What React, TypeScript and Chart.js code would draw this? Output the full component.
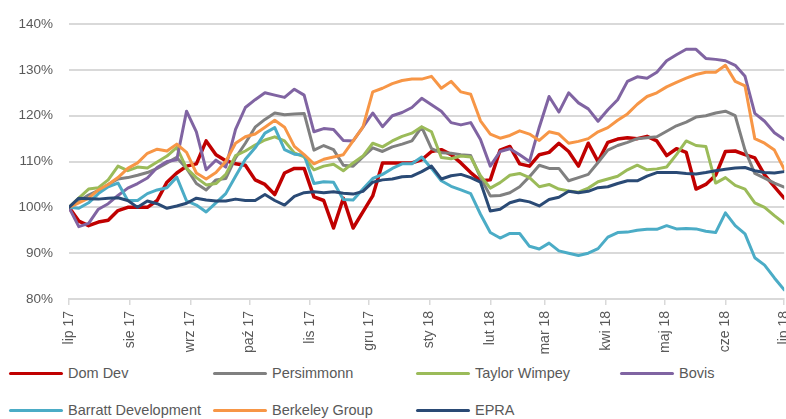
import React, { useEffect, useRef } from 'react';
import { Chart, registerables } from 'chart.js';

Chart.register(...registerables);

// Days since 1 Jul 2017 at which values were read
const sampleDays = [
  0, 5, 10, 15, 20, 25, 30, 35, 40, 45,
  50, 55, 60, 65, 70, 75, 80, 85, 90, 95,
  100, 105, 110, 115, 120, 125, 130, 135, 140, 145,
  150, 155, 160, 165, 170, 175, 180, 185, 190, 195,
  200, 205, 210, 215, 220, 225, 230, 235, 240, 245,
  250, 255, 260, 265, 270, 275, 280, 285, 290, 295,
  300, 305, 310, 315, 320, 325, 330, 335, 340, 345,
  350, 355, 360, 365,
];

const domDev = [
  100, 97, 96, 96.8, 97.2, 99.3, 100, 100, 100, 101.5,
  105.5, 107.5, 109, 109.5, 114.5, 111.5, 110.2, 109.5, 109.2, 106,
  105, 102.8, 107.5, 108.5, 108.5, 102.3, 101.5, 95.5, 102, 95.5,
  99, 102.5, 109.7, 109.7, 109.7, 109.7, 110.4, 112.2, 112.6, 111.5,
  109.7, 107.6, 105.8, 106, 112.5, 113.3, 109.5, 109, 111.5, 112,
  114, 112.2, 109, 114, 110, 114.2, 114.9, 115.2, 115, 115.5,
  114.5, 111.3, 112.8, 112, 104, 105, 107, 112.2, 112.3, 111.5,
  110.8, 107.1, 104.5, 102,
];

const persimmonn = [
  100, 101.4, 102.7, 103.7, 105, 106.2, 106.5, 107, 107.6, 108.5,
  109.7, 110.9, 108.5, 105.2, 103.8, 106, 106.3, 110.8, 114, 117.5,
  119.2, 120.6, 120.2, 120.4, 120.5, 112.5, 113.5, 112.6, 109.2, 109,
  111, 113, 112.2, 113.2, 113.8, 114.5, 117.5, 112.8, 111.9, 111.8,
  111.5, 111.3, 106.5, 102.5, 102.6, 103.2, 104.5, 106.7, 109.2, 108.5,
  108.5, 105.8, 106.5, 107.2, 109.8, 112.5, 113.5, 114.2, 115, 115.2,
  115.4, 116.6, 117.8, 118.6, 119.7, 120, 120.6, 121, 120, 112.5,
  107.4, 106.4, 105.3, 104.4,
];

const taylorWimpey = [
  100, 102, 104, 104.3, 106, 109, 108, 108.8, 108.6, 109.9,
  111.2, 113.1, 108.5, 106.5, 104.9, 105.2, 107.2, 111.3, 112.3, 113.6,
  114.7, 115.4, 114.5, 111.9, 111, 108.2, 109, 109.4, 108, 109.7,
  111.2, 114, 113.2, 114.5, 115.5, 116.2, 117.6, 116.5, 110.9, 110.6,
  111.2, 111, 106.9, 104.2, 105.4, 107, 107.4, 106.5, 104.5, 105,
  104, 103.6, 103.3, 104.2, 105.6, 106.2, 106.8, 108.2, 109.2, 108.2,
  108.4, 108.8, 111.5, 114.5, 113.5, 113.3, 105.3, 106.5, 104.8, 104,
  101, 100, 98.2, 96.5,
];

const bovis = [
  100, 95.8, 96.5, 99.6, 100.8, 102.6, 104.2, 105.2, 106.4, 108.7,
  110, 110.4, 121, 116.5, 108.2, 110.3, 108.8, 117, 121.8, 123.5,
  125, 124.5, 124, 125.8, 124.5, 116.5, 117.2, 117, 114.6, 114.5,
  117.5, 120.6, 117.6, 120, 120.7, 121.8, 123.8, 122.4, 121, 118.5,
  118, 118.5, 114.8, 109, 112.2, 112.8, 111.5, 110, 117.5, 124.2,
  120.8, 125, 122.8, 121.5, 118.8, 121.3, 123.5, 127.5, 128.5, 128.2,
  129.5, 132, 133.3, 134.5, 134.5, 132.5, 132.3, 132, 131, 128.6,
  120.5, 118.8, 116.3, 114.8,
];

const barratt = [
  100, 99.8, 101, 103, 104.5, 105.3, 101.5, 101.5, 103, 103.8,
  104.3, 106.6, 101.4, 100.5, 99, 101, 103, 106.8, 110.5, 113,
  116.2, 117.4, 112.6, 111.6, 111.4, 105.2, 105.6, 105.5, 101.7, 101.6,
  104, 106.3, 107.2, 108.5, 109.5, 109.5, 111, 108.5, 105.8, 104.6,
  103.8, 103, 98.5, 94.5, 93.3, 94.3, 94.3, 91.5, 90.9, 92.2,
  90.5, 90, 89.5, 90, 91, 93.5, 94.5, 94.6, 95, 95.2,
  95.2, 96, 95.3, 95.4, 95.3, 94.8, 94.5, 98.8, 96, 94.2,
  89, 87.4, 84.6, 82,
];

const berkeley = [
  100, 101, 102, 103.8, 105, 106.5, 108.5, 109.7, 111.8, 112.7,
  112.3, 113.8, 112, 107.5, 106.2, 107.6, 110, 114, 115.4, 116,
  117.5, 119, 117.5, 113.3, 111.5, 109.5, 110.5, 111, 111.5, 114.5,
  117.5, 125.2, 126, 127, 127.7, 128, 128, 128.6, 126, 127.5,
  125.2, 124.7, 118.9, 116, 115.1, 115.7, 116.7, 116, 114.6, 116.5,
  116, 114, 114.4, 115, 116.5, 117.4, 119, 120.4, 122.5, 124.2,
  125, 126.3, 127.3, 128.2, 129, 129.5, 129.5, 131, 127.5, 126.5,
  115, 114, 112.5, 108.3,
];

const epra = [
  100, 102, 101.9, 101.8, 102, 102.1, 101.5, 100, 101.4, 100.8,
  99.8, 100.3, 100.9, 102, 101.6, 101.4, 101.4, 101.8, 101.5, 101.5,
  102.8, 101.5, 100.5, 102.4, 103.2, 103.4, 103.2, 103.4, 103.1, 102.9,
  103.5, 105.5, 106, 106.2, 106.7, 106.8, 107.8, 109, 106.2, 106.9,
  107.2, 106.5, 105.5, 99.2, 99.6, 101, 101.6, 101.2, 100.3, 101.7,
  102.2, 103.5, 103.2, 103.5, 104.3, 104.5, 105.2, 105.8, 105.8, 106.8,
  107.6, 107.6, 107.6, 107.4, 107.3, 107.6, 108, 108.3, 108.6, 108.7,
  108, 107.6, 107.5, 107.8,
];

const seriesNames = ['Dom Dev', 'Persimmonn', 'Taylor Wimpey', 'Bovis', 'Barratt Development', 'Berkeley Group', 'EPRA'];
const seriesColors = ['#C00000', '#808080', '#9BBB59', '#8064A2', '#4BACC6', '#F79646', '#2A4A75'];
const seriesValues = [domDev, persimmonn, taylorWimpey, bovis, barratt, berkeley, epra];

const monthTickDays = [0, 31, 62, 92, 123, 153, 184, 215, 243, 274, 304, 335, 365];
const monthTickLabels = ['lip 17', 'sie 17', 'wrz 17', 'paź 17', 'lis 17', 'gru 17', 'sty 18', 'lut 18', 'mar 18', 'kwi 18', 'maj 18', 'cze 18', 'lip 18'];
const yTickValues = [80, 90, 100, 110, 120, 130, 140];

const FONT = "'Liberation Sans', Arial, sans-serif";

// legend layout: [column x, row center y]
const legendCols = [9, 213, 416, 620];
const legendRows = [373, 410];

export default function App() {
  const canvasRef = useRef<HTMLCanvasElement>(null);

  useEffect(() => {
    const canvas = canvasRef.current;
    if (!canvas) return;
    const n = seriesNames.length;
    const chart = new Chart(canvas, {
      type: 'line',
      data: {
        datasets: seriesNames.map((name, si) => ({
          label: name,
          data: sampleDays.map((d, i) => ({ x: d, y: seriesValues[si][i] })),
          borderColor: seriesColors[si],
          backgroundColor: seriesColors[si],
          borderWidth: si === 0 ? 3.5 : 3,
          pointRadius: 0,
          tension: 0,
          fill: false,
          order: n - si,
        })),
      },
      options: {
        animation: false,
        responsive: false,
        maintainAspectRatio: false,
        layout: { padding: { top: 18, left: 0, right: 0, bottom: 0 } },
        plugins: {
          legend: { display: false },
          tooltip: { enabled: false },
        },
        elements: {
          line: { borderJoinStyle: 'round', borderCapStyle: 'round' },
          point: { radius: 0 },
        },
        scales: {
          x: {
            type: 'linear',
            min: 0,
            max: 365,
            afterBuildTicks: (s: any) => {
              s.ticks = monthTickDays.map((v) => ({ value: v }));
            },
            afterFit: (s: any) => {
              s.height = 61;
            },
            grid: {
              drawOnChartArea: false,
              drawTicks: true,
              tickLength: 6,
              color: '#d9d9d9',
              lineWidth: 1.5,
            },
            border: { display: true, color: '#d9d9d9', width: 2 },
            ticks: {
              autoSkip: false,
              minRotation: 90,
              maxRotation: 90,
              padding: 6,
              color: '#595959',
              font: { family: FONT, size: 14 },
              callback: (_v: any, i: number) => monthTickLabels[i],
            },
          },
          y: {
            type: 'linear',
            min: 80,
            max: 140,
            afterBuildTicks: (s: any) => {
              s.ticks = yTickValues.map((v) => ({ value: v }));
            },
            afterFit: (s: any) => {
              s.width = 69;
            },
            grid: { color: '#d9d9d9', lineWidth: 2, drawTicks: false },
            border: { display: false },
            ticks: {
              padding: 16,
              color: '#595959',
              font: { family: FONT, size: 13.5 },
              callback: (v: any) => `${v}%`,
            },
          },
        },
      },
    } as any);
    return () => chart.destroy();
  }, []);

  return (
    <div
      style={{
        position: 'absolute',
        left: 0,
        top: 0,
        width: 786,
        height: 419,
        overflow: 'hidden',
        background: '#ffffff',
      }}
    >
      <canvas ref={canvasRef} width={807} height={360} style={{ display: 'block' }} />
      {seriesNames.map((name, i) => {
        const col = i % 4;
        const row = Math.floor(i / 4);
        return (
          <div
            key={name}
            style={{
              position: 'absolute',
              left: legendCols[col],
              top: legendRows[row] - 10,
              height: 20,
              display: 'flex',
              alignItems: 'center',
              whiteSpace: 'nowrap',
            }}
          >
            <div style={{ width: 54, height: 3, background: seriesColors[i], borderRadius: 1.5, marginRight: 5 }} />
            <span style={{ fontFamily: FONT, fontSize: 14.5, color: '#595959', lineHeight: '20px' }}>{name}</span>
          </div>
        );
      })}
    </div>
  );
}
